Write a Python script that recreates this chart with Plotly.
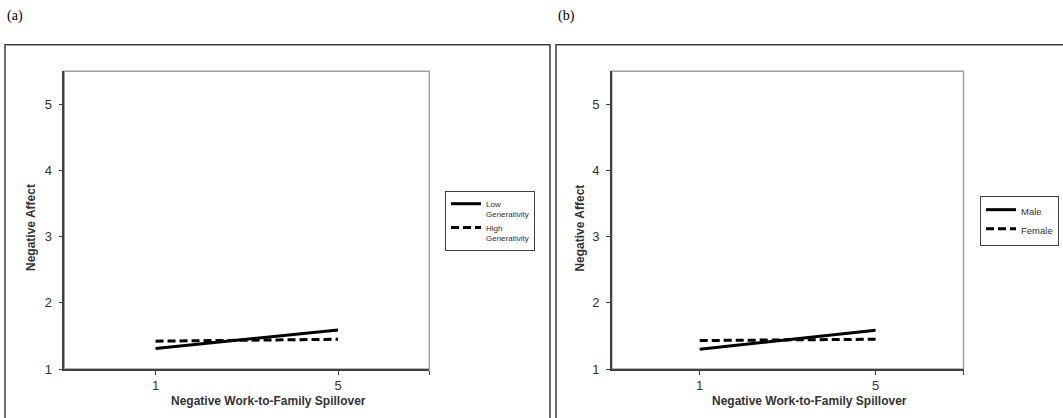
import plotly.graph_objects as go

# ---- data ----
x_levels = [1, 5]
x_ticks = [1, 5, 7]
x_tick_text = ["1", "5", ""]
y_ticks = [1, 2, 3, 4, 5]
y_tick_text = ["1", "2", "3", "4", "5"]

panel_a_low_gen = [1.31, 1.59]
panel_a_high_gen = [1.42, 1.45]
panel_b_male = [1.30, 1.585]
panel_b_female = [1.43, 1.45]

names_a = ["Low<br>Generativity", "High<br>Generativity"]
names_b = ["Male", "Female"]
x_title = "Negative Work-to-Family Spillover"
y_title = "Negative Affect"
panel_labels = ["(a)", "(b)"]

# ---- layout helpers ----
W, H = 1063, 418


def px(v):
    return v / W


def py(v):
    return 1 - v / H


FONT = "Liberation Sans"
AX = "#404040"
TXT = "#333333"

solid = dict(color="black", width=3)
dashed = dict(color="black", width=3, dash="8px,4px")

fig = go.Figure()
fig.add_trace(go.Scatter(x=x_levels, y=panel_a_low_gen, mode="lines", name=names_a[0],
                         line=solid, xaxis="x", yaxis="y", legend="legend"))
fig.add_trace(go.Scatter(x=x_levels, y=panel_a_high_gen, mode="lines", name=names_a[1],
                         line=dashed, xaxis="x", yaxis="y", legend="legend"))
fig.add_trace(go.Scatter(x=x_levels, y=panel_b_male, mode="lines", name=names_b[0],
                         line=solid, xaxis="x2", yaxis="y2", legend="legend2"))
fig.add_trace(go.Scatter(x=x_levels, y=panel_b_female, mode="lines", name=names_b[1],
                         line=dashed, xaxis="x2", yaxis="y2", legend="legend2"))

common = dict(showline=True, linecolor=AX, linewidth=1.5, ticks="outside", ticklen=4,
              tickcolor=AX, tickwidth=1, showgrid=False, zeroline=False, automargin=False,
              tickfont=dict(family=FONT, size=13, color=TXT), fixedrange=True)

ydom = [py(369), py(71.3)]
xaxis = dict(domain=[px(64.3), px(429.3)], range=[-1, 7], tickvals=x_ticks, ticktext=x_tick_text,
             anchor="y", **common)
yaxis = dict(domain=ydom, range=[1, 5.5], tickvals=y_ticks, ticktext=y_tick_text, anchor="x",
             ticklabelstandoff=4, **common)
xaxis2 = dict(domain=[px(611.8), px(963.5)], range=[-1, 7], tickvals=x_ticks, ticktext=x_tick_text,
              anchor="y2", **common)
yaxis2 = dict(domain=ydom, range=[1, 5.5], tickvals=y_ticks, ticktext=y_tick_text, anchor="x2",
              ticklabelstandoff=4, **common)

legend_common = dict(xanchor="left", yanchor="top", bordercolor=AX, borderwidth=1, bgcolor="white",
                     valign="top", tracegroupgap=0)

shapes = []
for xr, yr in (("x domain", "y domain"), ("x2 domain", "y2 domain")):
    shapes.append(dict(type="rect", xref=xr, yref=yr, x0=0, x1=1, y0=0, y1=1,
                       line=dict(color="#a0a0a0", width=1.5), layer="below"))
for x0, x1 in ((5, 550), (556, 1075)):
    shapes.append(dict(type="rect", xref="paper", yref="paper", x0=px(x0), x1=px(x1),
                       y0=py(440), y1=py(44.7), line=dict(color=AX, width=1.5), layer="below"))

annotations = []
for lab, x in zip(panel_labels, (5, 556)):
    annotations.append(dict(text=lab, x=px(x), y=py(16), xref="paper", yref="paper",
                            xanchor="left", yanchor="middle", showarrow=False,
                            font=dict(family="Liberation Serif", size=14, color="black")))
for x in (31, 579.6):
    annotations.append(dict(text="<b>" + y_title + "</b>", x=px(x), y=py(228), xref="paper", yref="paper",
                            textangle=-90, xanchor="center", yanchor="middle", showarrow=False,
                            font=dict(family=FONT, size=12, color=TXT)))
for x in (268, 809):
    annotations.append(dict(text="<b>" + x_title + "</b>", x=px(x), y=py(401), xref="paper", yref="paper",
                            xanchor="center", yanchor="middle", showarrow=False,
                            font=dict(family=FONT, size=12, color=TXT)))

fig.update_layout(
    width=W, height=H, margin=dict(l=0, r=0, t=0, b=0, autoexpand=False),
    paper_bgcolor="white", plot_bgcolor="white",
    xaxis=xaxis, yaxis=yaxis, xaxis2=xaxis2, yaxis2=yaxis2,
    legend=dict(x=px(445), y=py(191), font=dict(family=FONT, size=8, color=TXT), **legend_common),
    legend2=dict(x=px(980), y=py(196), font=dict(family=FONT, size=9.5, color=TXT), **legend_common),
    shapes=shapes, annotations=annotations, showlegend=True,
)

post = """
document.documentElement.style.margin = '0';
document.documentElement.style.overflow = 'hidden';
document.body.style.margin = '0';
document.body.style.padding = '0';
document.body.style.overflow = 'hidden';
var gd = document.getElementById('{plot_id}');
gd.style.position = 'fixed';
gd.style.left = '0px';
gd.style.top = '0px';
"""

fig.write_html("out.html", config={"displayModeBar": False}, post_script=post)
